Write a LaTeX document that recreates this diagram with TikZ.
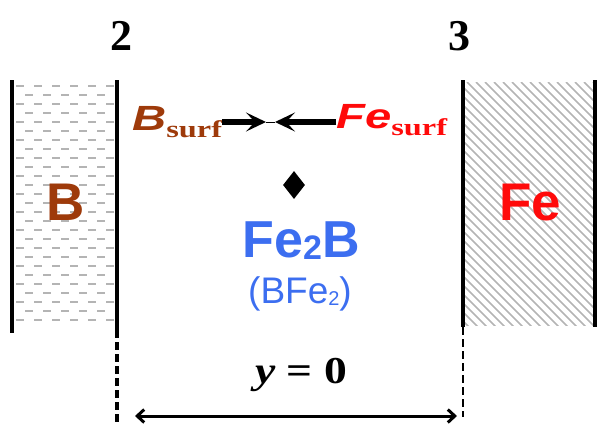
\documentclass[tikz,border=0pt]{standalone}
\usepackage{fontspec}
\setmainfont{Liberation Serif}
\setsansfont{Liberation Sans}
\newfontfamily\widesans[FakeStretch=1.35]{Liberation Sans}
\newfontfamily\wideserif[FakeStretch=1.35]{Liberation Serif}
\newfontfamily\midserif[FakeStretch=1.2]{Liberation Serif}
\usetikzlibrary{arrows.meta,positioning,shapes.geometric}
\definecolor{boron}{HTML}{9E3A0A}
\definecolor{iron}{HTML}{FF0A0A}
\definecolor{boride}{HTML}{3C6EF0}
\definecolor{texture}{HTML}{B4B4B4}
\tikzset{
  wall/.style={line width=3.5pt},
  leftguide/.style={line width=4pt,dash pattern=on 8pt off 4pt},
  rightguide/.style={line width=2.4pt,dash pattern=on 8pt off 4pt},
  sandline/.style={draw=texture,line width=2pt,dash pattern=on 8pt off 10pt},
  hatchline/.style={draw=texture,line width=1.6pt},
  span/.style={{Straight Barb[length=7pt,width=13pt]}-{Straight Barb[length=7pt,width=13pt]},
               line width=3pt},
  meet/.style={-{Stealth[length=20pt,width=19pt,inset=9pt]},line width=5.5pt},
  tag/.style={inner sep=0pt},
  phase/.style={tag,font=\sffamily\bfseries\fontsize{53}{53}\selectfont},
  edge/.style={tag,font=\bfseries\fontsize{44}{44}\selectfont},
  surf/.style={tag,font=\widesans\bfseries\itshape\fontsize{35}{35}\selectfont}
}

\begin{document}
\begin{tikzpicture}[x=1pt,y=-1pt]
    \path[use as bounding box] (0,0) rectangle (597,424);

    % boron side
    \foreach \r [evaluate=\r as \ph using {mod(\r,2)*9}] in {0,...,26}
      \draw[sandline,dash phase=\ph pt] (16,86+9*\r) -- (114,86+9*\r);
    % iron side
    \begin{scope}
      \clip (465,82) rectangle (593,325);
      \foreach \s in {-250,-241,...,135}
        \draw[hatchline] (465+\s,82) -- ++(250,250);
    \end{scope}

    \draw[wall] (12,80) -- (12,333);
    \draw[wall] (117,80) -- (117,330);
    \draw[wall] (463,80) -- (463,327);
    \draw[wall] (595,80) -- (595,327);
    \draw[leftguide] (117,330) -- (117,424);
    \draw[rightguide] (463,327) -- (463,417);

    \node[edge,anchor=base] (two) at (121,50) {2};
    \node[edge,anchor=base] (three) at (459,50) {3};

    \node[phase,text=boron,anchor=base] (bphase) at (66,220) {B};
    \node[phase,text=iron,anchor=base] (fephase) at (530,220) {Fe};

    \node[surf,text=boron,anchor=base west] (bsurf) at (132,130)
      {B\raisebox{-7pt}{\wideserif\upshape\fontsize{24}{24}\selectfont surf}};
    \node[surf,text=iron,anchor=base west] (fesurf) at (336,128)
      {Fe\raisebox{-7pt}{\wideserif\upshape\fontsize{24}{24}\selectfont surf}};
    \coordinate (meetL) at (266,122);
    \coordinate (meetR) at (275,122);
    \draw[meet] (bsurf.east |- meetL) -- (meetL);
    \draw[meet] (fesurf.west |- meetR) -- (meetR);
    \draw[line width=1pt] (meetL) -- (meetR);

    \node[diamond,fill=black,inner sep=0pt,minimum width=22pt,minimum height=28pt]
      (seed) at (294,185) {};
    \node[tag,text=boride,anchor=base,font=\sffamily\bfseries\fontsize{52}{52}\selectfont]
      (boride) at (301,257) {Fe\raisebox{-2pt}{\fontsize{34}{34}\selectfont 2}B};
    \node[tag,text=boride,anchor=base,font=\sffamily\fontsize{37}{37}\selectfont]
      (alias) at (300,303) {(BFe\raisebox{-2pt}{\fontsize{20}{20}\selectfont 2})};

    \node[tag,anchor=base,font=\midserif\bfseries\fontsize{38}{38}\selectfont]
      (ylabel) at (301,383) {\textit{y} = 0};
    \coordinate (spanL) at (135,416);
    \coordinate (spanR) at (457,416);
    \draw[span] (spanL) -- (spanR);
\end{tikzpicture}
\end{document}
